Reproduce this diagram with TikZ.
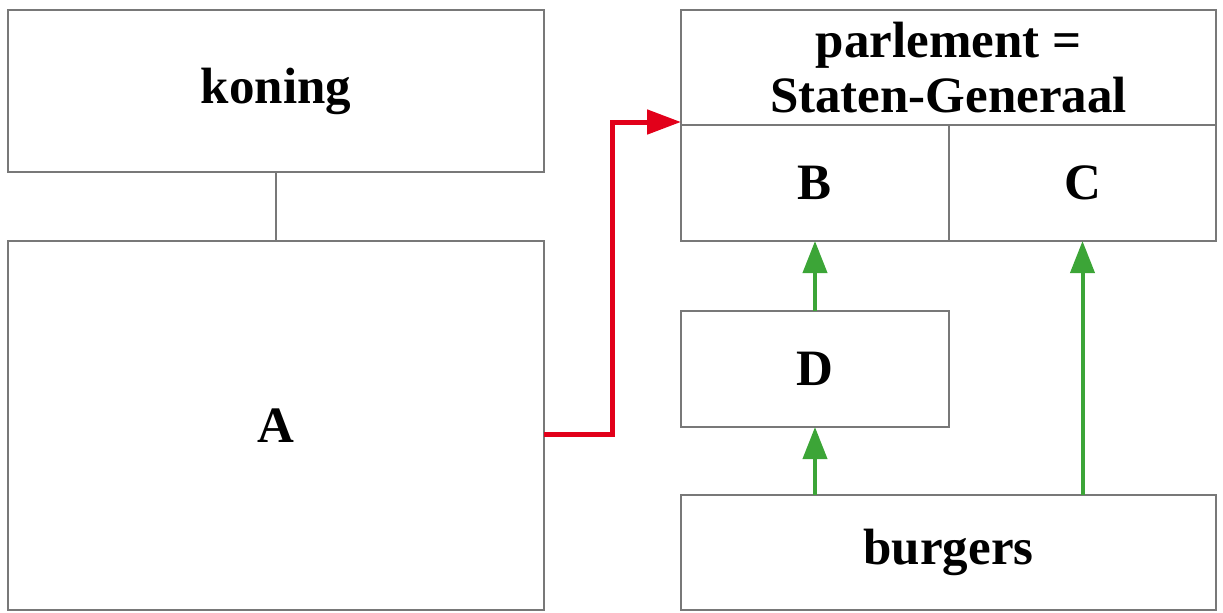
\documentclass[tikz,border=0pt]{standalone}
\usepackage{fontspec}
\setmainfont{Liberation Serif}
\usetikzlibrary{arrows.meta,positioning}

\definecolor{boxgray}{RGB}{120,120,120}
\definecolor{arrowred}{RGB}{226,0,26}
\definecolor{arrowgreen}{RGB}{60,165,55}

\tikzset{
  blok/.style={draw=boxgray, line width=1pt, inner sep=0pt, outer sep=0pt,
    font=\bfseries\fontsize{25.5}{27.5}\selectfont, align=center},
  rood/.style={draw=arrowred, line width=2.5pt, -{Triangle[length=17pt,width=12pt]}},
  groen/.style={draw=arrowgreen, line width=2pt, -{Triangle[length=16pt,width=12pt]}}
}

\begin{document}
\begin{tikzpicture}[x=0.5pt, y=-0.5pt]
\useasboundingbox (0,0) rectangle (1223,612);
% koning en A
\node[blok, minimum width=268pt, minimum height=81pt] (koning) at (276,91) {koning};
\node[blok, minimum width=268pt, minimum height=184.5pt] (A) at (276,425.5) {A};
\draw[boxgray, line width=1pt] (koning.south) -- (A.north);
% parlement
\node[blok, minimum width=267.5pt, minimum height=57.5pt] (parl) at (948.5,67.5) {parlement =\\Staten-Generaal};
\node[blok, minimum width=134pt, minimum height=58pt] (B) at (815,183) {B};
\node[blok, minimum width=133.5pt, minimum height=58pt] (C) at (1082.5,183) {C};
% D en burgers
\node[blok, minimum width=134pt, minimum height=58pt] (D) at (815,369) {D};
\node[blok, minimum width=267.5pt, minimum height=57.5pt] (burgers) at (948.5,552.5) {burgers};
% pijlen
\coordinate (parlin) at ([yshift=1.5pt]parl.south west);
\draw[rood, line join=miter] ([yshift=-4.5pt]A.east) -- ++(34pt,0) |- (parlin);
\draw[groen] (D.north) -- (B.south);
\draw[groen] (burgers.north -| D.south) -- (D.south);
\draw[groen] (burgers.north -| C.south) -- (C.south);
\end{tikzpicture}
\end{document}
